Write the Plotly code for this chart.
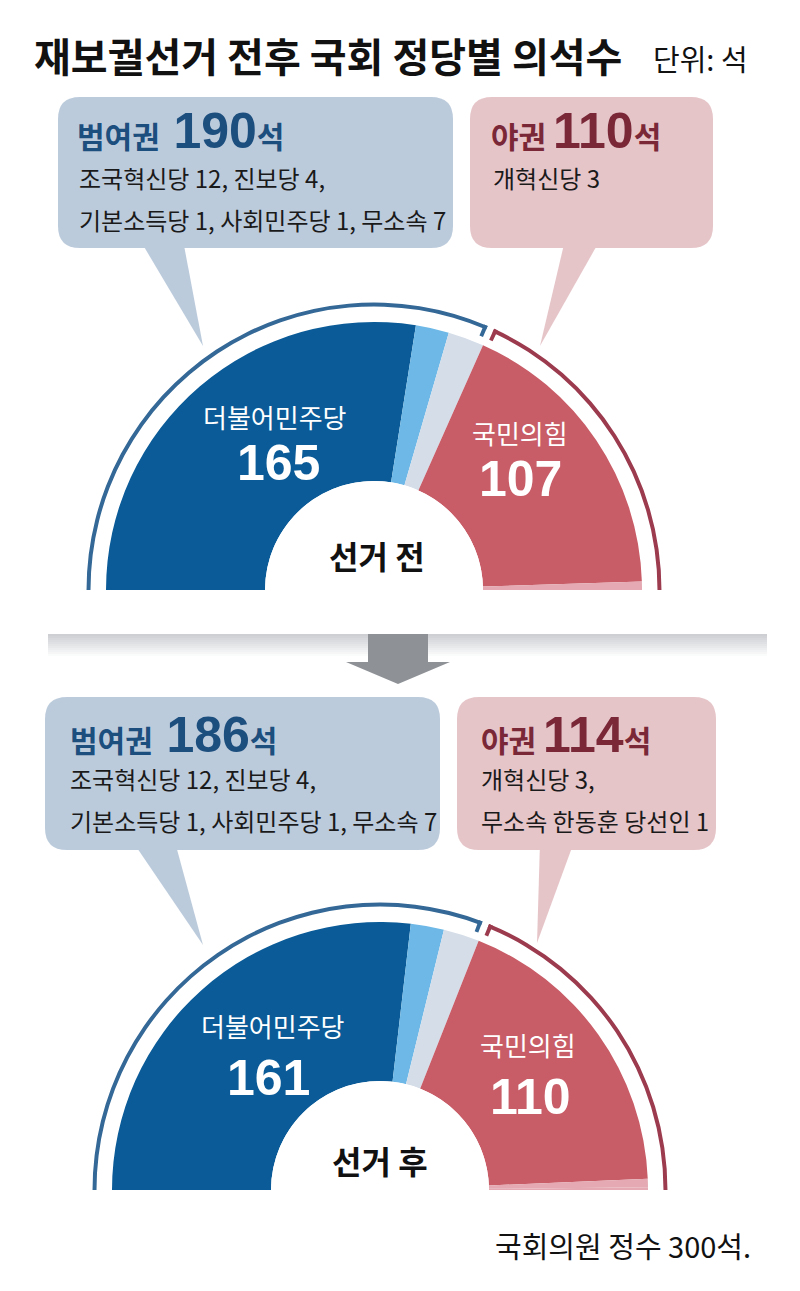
import plotly.graph_objects as go

W, H = 800, 1291
TOTAL = 300

# ---- data ----
parties = ['더불어민주당', '조국혁신당', '진보당·기본소득당·사회민주당·무소속', '국민의힘', '개혁신당', '무소속 한동훈']
seats_before = [165, 12, 13, 107, 3, 0]
seats_after = [161, 12, 13, 110, 3, 1]
party_colors = ['#0a5b97', '#6db8e6', '#d5dde9', '#c85c67', '#e4a9b2', '#e4a9b2']
bloc_names = ['범여권', '야권']
bloc_before = [190, 110]
bloc_after = [186, 114]
bloc_colors = ['#346896', '#9c3a4e']

KR = 'Noto Sans CJK KR'
NUM = 'Liberation Sans'
NB = '\u00a0'


def X(x):
    return x / W


def Y(y):
    return 1 - y / H


def wedges(seats):
    deg = 180 / TOTAL
    thetas, widths = [], []
    start = 180.0
    for s in seats:
        w = s * deg
        thetas.append(start - w / 2)
        widths.append(w)
        start -= w
    return thetas, widths


fig = go.Figure()


def add_chart(seats, blocs, subplot):
    th, wd = wedges(seats)
    fig.add_trace(go.Barpolar(
        r=[1] * len(seats), theta=th, width=wd, base=0,
        marker=dict(color=party_colors, line=dict(width=0)),
        text=parties, hoverinfo='text', subplot=subplot, showlegend=False))
    # bloc rings
    deg = 180 / TOTAL
    boundary = 180 - blocs[0] * deg
    g = 0.7
    tw = 0.8
    ring_th = [(180 + boundary + g) / 2, (boundary - g) / 2]
    ring_w = [180 - boundary - g, boundary - g]
    fig.add_trace(go.Barpolar(
        r=[0.025, 0.025], base=[1.0975, 1.0975], theta=ring_th, width=ring_w,
        marker=dict(color=bloc_colors, line=dict(width=0)),
        text=bloc_names, hoverinfo='text', subplot=subplot, showlegend=False))
    fig.add_trace(go.Barpolar(
        r=[0.075, 0.075], base=[1.0475, 1.0475],
        theta=[boundary + g + tw / 2, boundary - g - tw / 2], width=[tw, tw],
        marker=dict(color=bloc_colors, line=dict(width=0)),
        hoverinfo='skip', subplot=subplot, showlegend=False))


add_chart(seats_before, bloc_before, 'polar')
add_chart(seats_after, bloc_after, 'polar2')

polar_common = dict(
    sector=[0, 180], hole=0.3759, bgcolor='rgba(0,0,0,0)',
    radialaxis=dict(visible=False, range=[0, 1.1384], showgrid=False, showline=False, showticklabels=False),
    angularaxis=dict(visible=False, direction='counterclockwise', rotation=0,
                     showgrid=False, showline=False, showticklabels=False),
)

# top chart: centre (374, 590), radius 290 px
# bottom chart: centre (380, 1190), radius 290 px
R = 290
fig.update_layout(
    polar=dict(domain=dict(x=[X(374 - R), X(374 + R)], y=[Y(590), Y(590 - R)]), **polar_common),
    polar2=dict(domain=dict(x=[X(380 - R), X(380 + R)], y=[Y(1190), Y(1190 - R)]), **polar_common),
)

shapes = []


def rrect(x0, y0, x1, y1, r):
    p = [
        f"M{X(x0 + r)},{Y(y0)}",
        f"L{X(x1 - r)},{Y(y0)}",
        f"Q{X(x1)},{Y(y0)} {X(x1)},{Y(y0 + r)}",
        f"L{X(x1)},{Y(y1 - r)}",
        f"Q{X(x1)},{Y(y1)} {X(x1 - r)},{Y(y1)}",
        f"L{X(x0 + r)},{Y(y1)}",
        f"Q{X(x0)},{Y(y1)} {X(x0)},{Y(y1 - r)}",
        f"L{X(x0)},{Y(y0 + r)}",
        f"Q{X(x0)},{Y(y0)} {X(x0 + r)},{Y(y0)}",
        "Z",
    ]
    return " ".join(p)


def poly(pts):
    return "M" + " L".join(f"{X(x)},{Y(y)}" for x, y in pts) + " Z"


BOX_BLUE = '#bccbdc'
BOX_PINK = '#e6c5c9'

for path, col in [
    (rrect(58, 97, 453, 248, 22), BOX_BLUE),
    (poly([(140, 240), (183, 240), (203, 346)]), BOX_BLUE),
    (rrect(470, 97, 713, 248, 22), BOX_PINK),
    (poly([(565, 240), (600, 240), (540, 346)]), BOX_PINK),
    (rrect(45, 697, 440, 850, 22), BOX_BLUE),
    (poly([(133, 842), (175, 842), (203, 945)]), BOX_BLUE),
    (rrect(457, 697, 716, 850, 22), BOX_PINK),
    (poly([(540, 842), (574, 842), (537, 943)]), BOX_PINK),
]:
    shapes.append(dict(type='path', path=path, xref='paper', yref='paper',
                       fillcolor=col, line=dict(width=0), layer='below'))

# separator band with vertical fade
n = 12
top_c = (205, 207, 211)
for i in range(n):
    t = i / (n - 1)
    c = tuple(int(round(top_c[k] + (255 - top_c[k]) * t)) for k in range(3))
    y0 = 634 + i * 2
    shapes.append(dict(type='rect', xref='paper', yref='paper',
                       x0=X(48), x1=X(767), y0=Y(y0 + 2), y1=Y(y0),
                       fillcolor=f'rgb{c}', line=dict(width=0), layer='below'))

# arrow
shapes.append(dict(type='path', xref='paper', yref='paper', layer='below',
                   path=poly([(368, 634), (428, 634), (428, 662), (450, 662),
                              (398, 684), (346, 662), (368, 662)]),
                   fillcolor='#8e9196', line=dict(width=0)))

fig.update_layout(shapes=shapes)

ann = []


def text(t, x, y, size, color='#111111', anchor='center', family=KR):
    ann.append(dict(text=t, x=X(x), y=Y(y), xref='paper', yref='paper',
                    xanchor=anchor, yanchor='middle', showarrow=False,
                    font=dict(size=size, color=color, family=family)))


def num(v, size):
    return f"<span style='font-family:{NUM};font-size:{size}px'>{v}</span>"


# title
text('<b>재보궐선거 전후 국회 정당별 의석수</b>', 32, 55, 40, '#111111', 'left')
text('단위: 석', 651, 58, 29, '#111111', 'left')

BLUE_T = '#1c4e7e'
RED_T = '#7a2838'

# top boxes
text(f"<b>{bloc_names[0]}{NB} {num(bloc_before[0], 50)}석</b>", 75, 131, 30, BLUE_T, 'left')
text('조국혁신당 12, 진보당 4,', 77, 177, 24, '#1a1a1a', 'left')
text('기본소득당 1, 사회민주당 1, 무소속 7', 77, 219, 24, '#1a1a1a', 'left')
text(f"<b>{bloc_names[1]} {num(bloc_before[1], 50)}석</b>", 489, 131, 30, RED_T, 'left')
text('개혁신당 3', 491, 177, 24, '#1a1a1a', 'left')

# bottom boxes
text(f"<b>{bloc_names[0]}{NB} {num(bloc_after[0], 50)}석</b>", 68, 735, 30, BLUE_T, 'left')
text('조국혁신당 12, 진보당 4,', 68, 778, 24, '#1a1a1a', 'left')
text('기본소득당 1, 사회민주당 1, 무소속 7', 68, 820, 24, '#1a1a1a', 'left')
text(f"<b>{bloc_names[1]} {num(bloc_after[1], 50)}석</b>", 479, 735, 30, RED_T, 'left')
text('개혁신당 3,', 479, 778, 24, '#1a1a1a', 'left')
text('무소속 한동훈 당선인 1', 479, 820, 24, '#1a1a1a', 'left')

# chart labels
text(parties[0], 275, 416, 26, 'white')
text(f"<b>{seats_before[0]}</b>", 278, 463, 50, 'white', family=NUM)
text(parties[3], 520, 432, 26, 'white')
text(f"<b>{seats_before[3]}</b>", 520, 479, 50, 'white', family=NUM)
text('<b>선거 전</b>', 377, 555, 32, '#111111')

text(parties[0], 273, 1025, 26, 'white')
text(f"<b>{seats_after[0]}</b>", 268, 1078, 50, 'white', family=NUM)
text(parties[3], 528, 1044, 26, 'white')
text(f"<b>{seats_after[3]}</b>", 530, 1097, 50, 'white', family=NUM)
text('<b>선거 후</b>', 380, 1160, 32, '#111111')

text('국회의원 정수 300석.', 753, 1245, 29, '#111111', 'right')

fig.update_layout(
    annotations=ann,
    width=W, height=H,
    margin=dict(l=0, r=0, t=0, b=0),
    paper_bgcolor='white', plot_bgcolor='white',
    template='none',
    showlegend=False,
)

fig.write_html('out.html')
